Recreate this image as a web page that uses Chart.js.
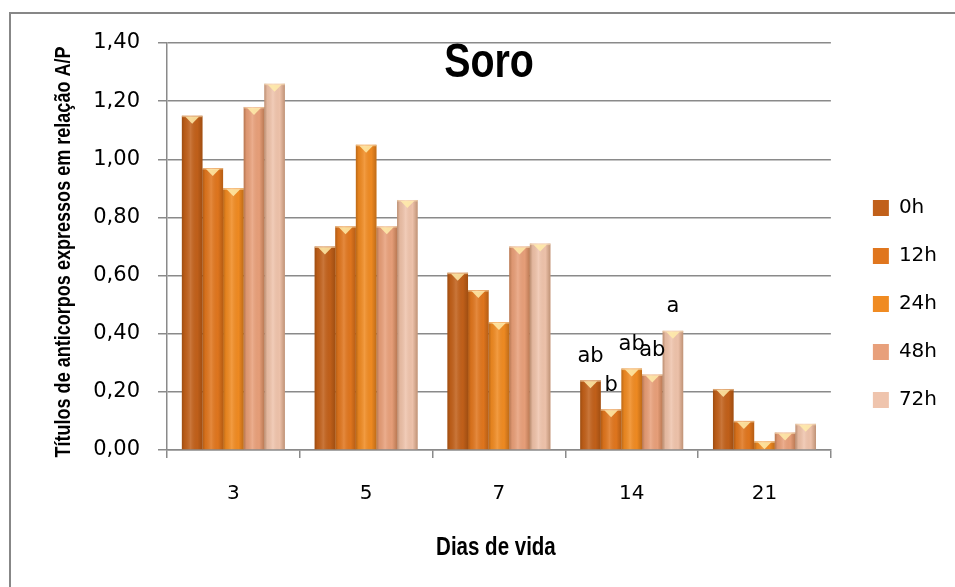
<!DOCTYPE html>
<html>
<head>
<meta charset="utf-8">
<script src="https://cdn.jsdelivr.net/npm/chart.js@4.4.1/dist/chart.umd.min.js"></script>
<style>
  html, body { margin: 0; padding: 0; background: #ffffff; }
  #wrap { width: 955px; height: 587px; }
</style>
</head>
<body>
<div id="wrap"><canvas id="grafico" width="955" height="587"></canvas></div>
<script>
// Dias de vida avaliados
const categorias = ['3', '5', '7', '14', '21'];

// Títulos de anticorpos (relação A/P) por tempo de colheita
const serie0h  = [1.15, 0.70, 0.61, 0.24, 0.21];
const serie12h = [0.97, 0.77, 0.55, 0.14, 0.10];
const serie24h = [0.90, 1.05, 0.44, 0.28, 0.03];
const serie48h = [1.18, 0.77, 0.70, 0.26, 0.06];
const serie72h = [1.26, 0.86, 0.71, 0.41, 0.09];

const nomesSeries = ['0h', '12h', '24h', '48h', '72h'];

// Letras de comparação estatística no dia 14
const diaComLetras = '14';
const letrasDia14 = ['ab', 'b', 'ab', 'ab', 'a'];

// Marcas do eixo Y
const ticksY = [0, 0.2, 0.4, 0.6, 0.8, 1.0, 1.2, 1.4];

const tituloGrafico = 'Soro';
const tituloEixoX = 'Dias de vida';
const tituloEixoY = 'Títulos de anticorpos expressos em relação A/P';

const cores = ['#c1601a', '#e0761e', '#f08b22', '#e8a07b', '#efc4ad'];
const cinza = '#8a8a8a';

const valores = [serie0h, serie12h, serie24h, serie48h, serie72h];

const datasets = nomesSeries.map((nome, i) => ({
  label: nome,
  data: valores[i],
  backgroundColor: cores[i],
  borderColor: cores[i],
  borderWidth: 0,
  categoryPercentage: 0.776,
  barPercentage: 1.0
}));

// Moldura externa e fundo branco
const moldura = {
  id: 'moldura',
  beforeDraw(chart) {
    const ctx = chart.ctx;
    ctx.save();
    ctx.fillStyle = '#ffffff';
    ctx.fillRect(0, 0, chart.width, chart.height);
    ctx.strokeStyle = '#878787';
    ctx.lineWidth = 2;
    ctx.strokeRect(10, 13, chart.width + 20, chart.height + 20);
    ctx.restore();
  }
};

// Sombreado cilíndrico e topo em pirâmide de cada barra
const sombreado = {
  id: 'sombreado',
  afterDatasetsDraw(chart) {
    const ctx = chart.ctx;
    ctx.save();
    chart.data.datasets.forEach((ds, di) => {
      const meta = chart.getDatasetMeta(di);
      if (meta.hidden) return;
      meta.data.forEach(bar => {
        const w = bar.width;
        const x0 = bar.x - w / 2;
        const top = Math.min(bar.y, bar.base);
        const h = Math.abs(bar.base - bar.y);
        const g = ctx.createLinearGradient(x0, 0, x0 + w, 0);
        g.addColorStop(0, 'rgba(90,40,0,0.35)');
        g.addColorStop(0.14, 'rgba(90,40,0,0.08)');
        g.addColorStop(0.42, 'rgba(255,255,255,0.14)');
        g.addColorStop(0.75, 'rgba(90,40,0,0.02)');
        g.addColorStop(1, 'rgba(90,40,0,0.32)');
        ctx.fillStyle = g;
        ctx.fillRect(x0, top, w, h);
        const capH = Math.min(8, h);
        ctx.fillStyle = 'rgba(255,236,170,0.85)';
        ctx.beginPath();
        ctx.moveTo(bar.x - w * 0.33, top + 1);
        ctx.lineTo(bar.x + w * 0.33, top + 1);
        ctx.lineTo(bar.x, top + capH);
        ctx.closePath();
        ctx.fill();
        ctx.fillStyle = 'rgba(255,230,190,0.55)';
        ctx.fillRect(x0, top, w, 1.5);
      });
    });
    ctx.restore();
  }
};

// Texto em negrito estreito (compressão horizontal da Liberation Sans)
function textoEstreito(ctx, texto, x, y, tamanho, rot) {
  ctx.save();
  ctx.translate(x, y);
  ctx.rotate(rot || 0);
  ctx.scale(0.82, 1);
  ctx.font = 'bold ' + tamanho + 'px "Liberation Sans", Arial, sans-serif';
  ctx.textAlign = 'center';
  ctx.textBaseline = 'middle';
  ctx.fillStyle = '#000';
  ctx.fillText(texto, 0, 0);
  ctx.restore();
}

// Letras sobre as barras do dia 14, título e títulos dos eixos
const textos = {
  id: 'textos',
  afterDatasetsDraw(chart) {
    const ctx = chart.ctx;
    const idx = chart.data.labels.indexOf(diaComLetras);
    ctx.save();
    ctx.fillStyle = '#000';
    ctx.textAlign = 'center';
    ctx.textBaseline = 'middle';
    ctx.font = '21px "DejaVu Sans"';
    letrasDia14.forEach((letra, di) => {
      const bar = chart.getDatasetMeta(di).data[idx];
      ctx.fillText(letra, bar.x, bar.y - 24);
    });
    ctx.restore();

    const area = chart.chartArea;
    textoEstreito(ctx, tituloGrafico, 489, 64, 48, 0);
    textoEstreito(ctx, tituloEixoX, (area.left + area.right) / 2 - 3, 548, 25, 0);
    textoEstreito(ctx, tituloEixoY, 64, 252, 22, -Math.PI / 2);
  }
};

new Chart(document.getElementById('grafico'), {
  type: 'bar',
  data: { labels: categorias, datasets },
  options: {
    responsive: false,
    animation: false,
    layout: { padding: { top: 43, bottom: 22, left: 0, right: 8 } },
    plugins: {
      title: { display: false },
      tooltip: { enabled: false },
      legend: {
        position: 'right',
        align: 'center',
        labels: {
          boxWidth: 16,
          boxHeight: 16,
          padding: 28,
          color: '#000',
          font: { family: 'DejaVu Sans', size: 20 }
        }
      }
    },
    scales: {
      x: {
        grid: { display: true, drawOnChartArea: false, tickLength: 8, color: cinza, lineWidth: 1.5 },
        border: { color: cinza, width: 1.5 },
        ticks: { color: '#000', padding: 24, font: { family: 'DejaVu Sans', size: 20 } },
        title: { display: false },
        afterFit(s) { s.height = 115; }
      },
      y: {
        min: 0,
        max: 1.4,
        afterBuildTicks(s) { s.ticks = ticksY.map(v => ({ value: v })); },
        grid: { color: cinza, lineWidth: 1.5, tickLength: 9 },
        border: { color: cinza, width: 1.5 },
        ticks: {
          color: '#000',
          padding: 18,
          font: { family: 'DejaVu Sans', size: 21 },
          callback: v => v.toFixed(2).replace('.', ',')
        },
        title: { display: false },
        afterFit(s) { s.width = 167; }
      },
      margem: {
        type: 'linear',
        position: 'right',
        display: true,
        grid: { display: false, drawTicks: false },
        border: { display: false },
        ticks: { display: false },
        afterFit(s) { s.width = 14; }
      }
    }
  },
  plugins: [moldura, sombreado, textos]
});
</script>
</body>
</html>
